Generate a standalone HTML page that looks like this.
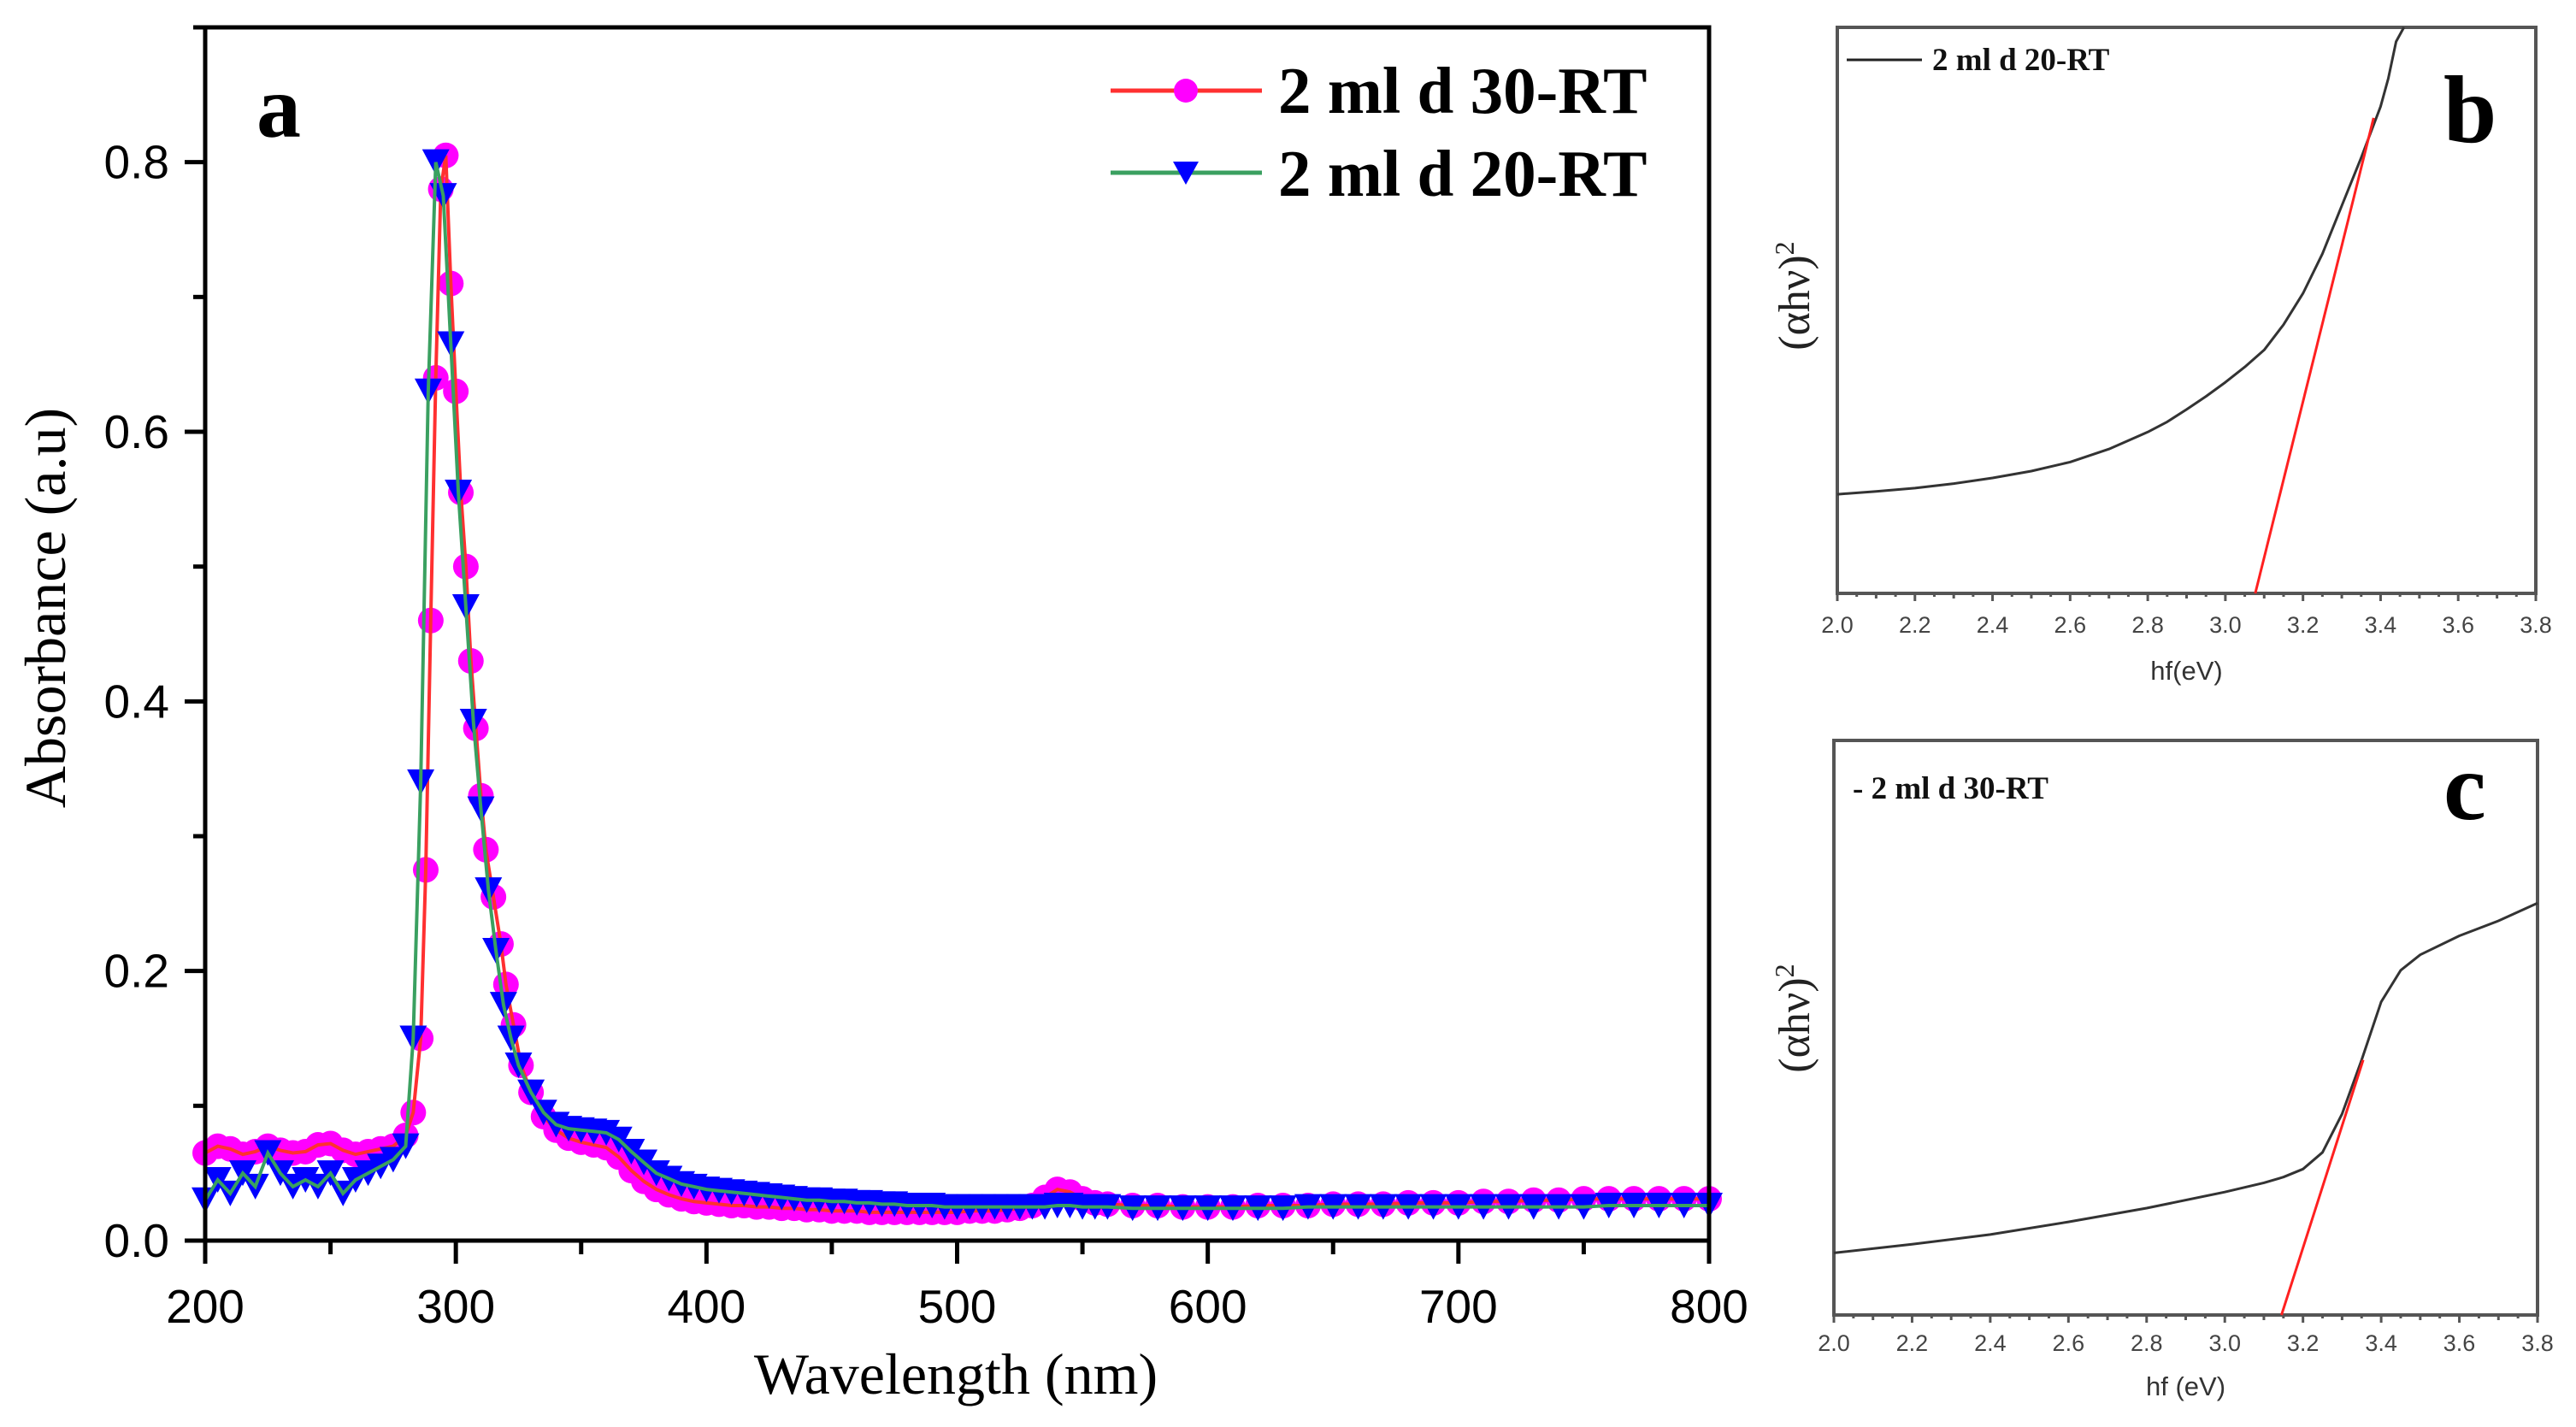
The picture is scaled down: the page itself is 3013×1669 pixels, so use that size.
<!DOCTYPE html>
<html><head><meta charset="utf-8"><style>
html,body{margin:0;padding:0;background:#fff}
svg{display:block}
</style></head><body>
<svg id="fig" width="3013" height="1669" viewBox="0 0 3013 1669" xmlns="http://www.w3.org/2000/svg">
<rect x="0" y="0" width="3013" height="1669" fill="#fff"/>
<g id="pa"></g>
<g id="pb"></g>
<g id="pc"></g>
</svg>
<script>
const NS='http://www.w3.org/2000/svg';
// ---- Panel a data ----
const xTicksA=[200,300,400,500,600,700,800];
const yTicksA=[0.0,0.2,0.4,0.6,0.8];
const yTickLabelsA=['0.0','0.2','0.4','0.6','0.8'];
const wl30=[200,205,210,215,220,225,230,235,240,245,250,255,260,265,270,275,280,283,286,288,290,292,294,296,298,300,302,304,306,308,310,312,315,318,320,323,326,330,335,340,345,350,355,360,365,370,375,380,385,390,395,400,405,410,415,420,425,430,435,440,445,450,455,460,465,470,475,480,485,490,495,500,505,510,515,520,525,530,535,540,545,550,555,560,570,580,590,600,610,620,630,640,650,660,670,680,690,700,710,720,730,740,750,760,770,780,790,800];
const abs30=[0.065,0.07,0.068,0.064,0.066,0.07,0.067,0.065,0.066,0.071,0.072,0.067,0.064,0.066,0.068,0.07,0.078,0.095,0.15,0.275,0.46,0.64,0.78,0.805,0.71,0.63,0.555,0.5,0.43,0.38,0.33,0.29,0.255,0.22,0.19,0.16,0.13,0.11,0.092,0.082,0.076,0.073,0.071,0.069,0.062,0.052,0.044,0.038,0.034,0.031,0.029,0.028,0.027,0.026,0.026,0.025,0.025,0.024,0.024,0.023,0.023,0.022,0.022,0.022,0.021,0.021,0.021,0.021,0.021,0.021,0.021,0.021,0.022,0.022,0.022,0.023,0.024,0.026,0.032,0.038,0.036,0.031,0.028,0.027,0.026,0.026,0.025,0.025,0.025,0.026,0.026,0.026,0.027,0.027,0.027,0.028,0.028,0.028,0.029,0.029,0.03,0.03,0.031,0.031,0.031,0.031,0.031,0.031];
const wl20=[200,205,210,215,220,225,230,235,240,245,250,255,260,265,270,275,280,283,286,289,292,295,298,301,304,307,310,313,316,319,322,325,330,335,340,345,350,355,360,365,370,375,380,385,390,395,400,405,410,415,420,425,430,435,440,445,450,455,460,465,470,475,480,485,490,495,500,505,510,515,520,525,530,535,540,545,550,555,560,570,580,590,600,610,620,630,640,650,660,670,680,690,700,710,720,730,740,750,760,770,780,790,800];
const abs20=[0.03,0.045,0.035,0.05,0.04,0.065,0.05,0.04,0.045,0.04,0.05,0.035,0.045,0.05,0.055,0.06,0.07,0.15,0.34,0.63,0.8,0.775,0.665,0.555,0.47,0.385,0.32,0.26,0.215,0.175,0.15,0.13,0.11,0.095,0.086,0.083,0.082,0.081,0.08,0.075,0.066,0.058,0.05,0.046,0.042,0.04,0.038,0.037,0.036,0.035,0.034,0.033,0.032,0.031,0.03,0.03,0.029,0.029,0.028,0.028,0.027,0.027,0.026,0.026,0.026,0.025,0.025,0.025,0.025,0.025,0.025,0.025,0.025,0.025,0.026,0.026,0.025,0.025,0.025,0.024,0.024,0.024,0.024,0.024,0.024,0.024,0.025,0.025,0.025,0.025,0.025,0.025,0.025,0.025,0.025,0.025,0.025,0.025,0.026,0.026,0.026,0.026,0.026];
// ---- Panel b/c data ----
const xTicksBC=[2.0,2.2,2.4,2.6,2.8,3.0,3.2,3.4,3.6,3.8];
const xTickLabelsBC=['2.0','2.2','2.4','2.6','2.8','3.0','3.2','3.4','3.6','3.8'];
const hvB=[2.0,2.1,2.2,2.3,2.4,2.5,2.6,2.7,2.8,2.85,2.9,2.95,3.0,3.05,3.1,3.15,3.2,3.25,3.3,3.35,3.4,3.42,3.44,3.46];
const yB=[0.175,0.18,0.186,0.194,0.204,0.216,0.232,0.255,0.285,0.303,0.325,0.348,0.373,0.4,0.43,0.475,0.53,0.6,0.685,0.77,0.86,0.91,0.975,1.0];
const fitBx=[3.077,3.382];
const fitBy=[0.0,0.84];
const hvC=[2.0,2.2,2.4,2.6,2.8,3.0,3.1,3.15,3.2,3.25,3.3,3.35,3.4,3.45,3.5,3.6,3.7,3.8];
const yC=[0.108,0.123,0.14,0.162,0.186,0.214,0.23,0.24,0.254,0.283,0.35,0.444,0.545,0.6,0.627,0.66,0.686,0.717];
const fitCx=[3.145,3.354];
const fitCy=[0.0,0.444];

function mk(tag,attrs,parent,txt){const e=document.createElementNS(NS,tag);for(const k in attrs)e.setAttribute(k,attrs[k]);if(txt!==undefined)e.textContent=txt;parent.appendChild(e);return e;}

// ---- Panel a ----
(function(){
const g=document.getElementById('pa');
const L=240,R=1999,T=32,B=1451;
const sx=v=>L+(v-200)/600*(R-L);
const sy=v=>B-(v/0.9)*(B-T);
let d='';wl30.forEach((x,i)=>{d+=(i?'L':'M')+sx(x).toFixed(1)+' '+sy(abs30[i]).toFixed(1);});
const s30=mk('g',{},g);


wl30.forEach((x,i)=>{const c=mk('circle',{cx:sx(x),cy:sy(abs30[i]),r:15,fill:'#ff00ff'},s30);

});
mk('path',{d:d,fill:'none',stroke:'#ff3030','stroke-width':4},s30);
let d2='';wl20.forEach((x,i)=>{d2+=(i?'L':'M')+sx(x).toFixed(1)+' '+sy(abs20[i]).toFixed(1);});
const s20=mk('g',{},g);


wl20.forEach((x,i)=>{const X=sx(x),Y=sy(abs20[i]);const p=mk('polygon',{points:`${X-16},${Y-15} ${X+16},${Y-15} ${X},${Y+15}`,fill:'#0000ff'},s20);

});
mk('path',{d:d2,fill:'none',stroke:'#3aa060','stroke-width':4},s20);
mk('rect',{x:L,y:T,width:R-L,height:B-T,fill:'none',stroke:'#000','stroke-width':5},g);
for(let v=0;v<=0.9001;v+=0.1){const y=sy(v);const major=Math.round(v*10)%2===0;mk('line',{x1:L,x2:L-(major?24:14),y1:y,y2:y,stroke:'#000','stroke-width':5},g);}
yTicksA.forEach((v,i)=>{const t=mk('text',{x:L-42,y:sy(v)+19,'text-anchor':'end','font-family':'Liberation Sans, sans-serif','font-size':55,fill:'#000'},g,yTickLabelsA[i]);

});
for(let v=200;v<=800;v+=50){const x=sx(v);const major=v%100===0;mk('line',{x1:x,x2:x,y1:B,y2:B+(major?27:16),stroke:'#000','stroke-width':5},g);}
xTicksA.forEach(v=>{const t=mk('text',{x:sx(v),y:1547,'text-anchor':'middle','font-family':'Liberation Sans, sans-serif','font-size':55,fill:'#000'},g,String(v));

});
const xt=mk('text',{x:1118,y:1630,'text-anchor':'middle','font-family':'Liberation Serif, serif','font-size':68,fill:'#000'},g,'Wavelength (nm)');


const yt=mk('text',{x:0,y:0,transform:'translate(76,711) rotate(-90)','text-anchor':'middle','font-family':'Liberation Serif, serif','font-size':68,fill:'#000'},g,'Absorbance (a.u)');


const la=mk('text',{x:300,y:160,'font-family':'Liberation Serif, serif','font-size':104,'font-weight':'bold',fill:'#000'},g,'a');


const lg=mk('g',{},g);


mk('line',{x1:1299,x2:1476,y1:106,y2:106,stroke:'#ff3030','stroke-width':5},lg);
mk('circle',{cx:1387,cy:106,r:14,fill:'#ff00ff'},lg);
mk('text',{x:1495,y:132,'font-family':'Liberation Serif, serif','font-size':77,'font-weight':'bold',fill:'#000'},lg,'2 ml d 30-RT');
mk('line',{x1:1299,x2:1476,y1:202,y2:202,stroke:'#3aa060','stroke-width':5},lg);
mk('polygon',{points:'1372,189 1402,189 1387,216',fill:'#0000ff'},lg);
mk('text',{x:1495,y:229,'font-family':'Liberation Serif, serif','font-size':77,'font-weight':'bold',fill:'#000'},lg,'2 ml d 20-RT');
})();

function small(gid,L,R,T,B,hx,hy,fx,fy,legend,letter,letterY,legY,xlab,tickY,labY,yLabY,legLine){
const g=document.getElementById(gid);
const sx=v=>L+(v-2.0)/1.8*(R-L);
const sy=v=>B-v*(B-T);
mk('rect',{x:L,y:T,width:R-L,height:B-T,fill:'none',stroke:'#555','stroke-width':4},g);
for(let i=0;i<=36;i++){const v=2.0+i*0.05;const x=sx(v);const major=i%4===0;const mid=i%2===0;mk('line',{x1:x,x2:x,y1:B,y2:B+(major?9:(mid?6:4)),stroke:'#555','stroke-width':3},g);}
xTicksBC.forEach((v,i)=>{const t=mk('text',{x:sx(v),y:tickY,'text-anchor':'middle','font-family':'Liberation Sans, sans-serif','font-size':27,fill:'#444'},g,xTickLabelsBC[i]);

});
const xt=mk('text',{x:(L+R)/2,y:labY,'text-anchor':'middle','font-family':'Liberation Sans, sans-serif','font-size':31,fill:'#333'},g,xlab);


const yt=mk('text',{x:0,y:0,transform:`translate(2116,${yLabY}) rotate(-90)`,'text-anchor':'middle','font-family':'Liberation Serif, serif','font-size':52,fill:'#222'},g);


yt.appendChild(document.createTextNode('(αhν)'));
mk('tspan',{dy:-18,'font-size':32},yt,'2');
let d='';hx.forEach((x,i)=>{d+=(i?'L':'M')+sx(x).toFixed(1)+' '+sy(hy[i]).toFixed(1);});
const c=mk('path',{d:d,fill:'none',stroke:'#333','stroke-width':3,'stroke-linejoin':'round'},g);


const f=mk('line',{x1:sx(fx[0]),y1:sy(fy[0]),x2:sx(fx[1]),y2:sy(fy[1]),stroke:'#ff2020','stroke-width':3},g);


const lgG=mk('g',{},g);


if(legLine) mk('line',{x1:2160,x2:2248,y1:legY-12,y2:legY-12,stroke:'#222','stroke-width':3},lgG);
mk('text',{x:legLine?2260:2167,y:legY,'font-family':'Liberation Serif, serif','font-size':37,'font-weight':'bold',fill:'#111'},lgG,legend);
const lt=mk('text',{x:2858,y:letterY,'font-family':'Liberation Serif, serif','font-size':112,'font-weight':'bold',fill:'#000'},g,letter);


}
small('pb',2149,2966,32,694,hvB,yB,fitBx,fitBy,'2 ml d 20-RT','b',166,82,'hf(eV)',740,795,346,true);
small('pc',2145,2968,866,1538,hvC,yC,fitCx,fitCy,'- 2 ml d 30-RT','c',958,934,'hf (eV)',1580,1632,1191,false);
</script>
</body></html>
